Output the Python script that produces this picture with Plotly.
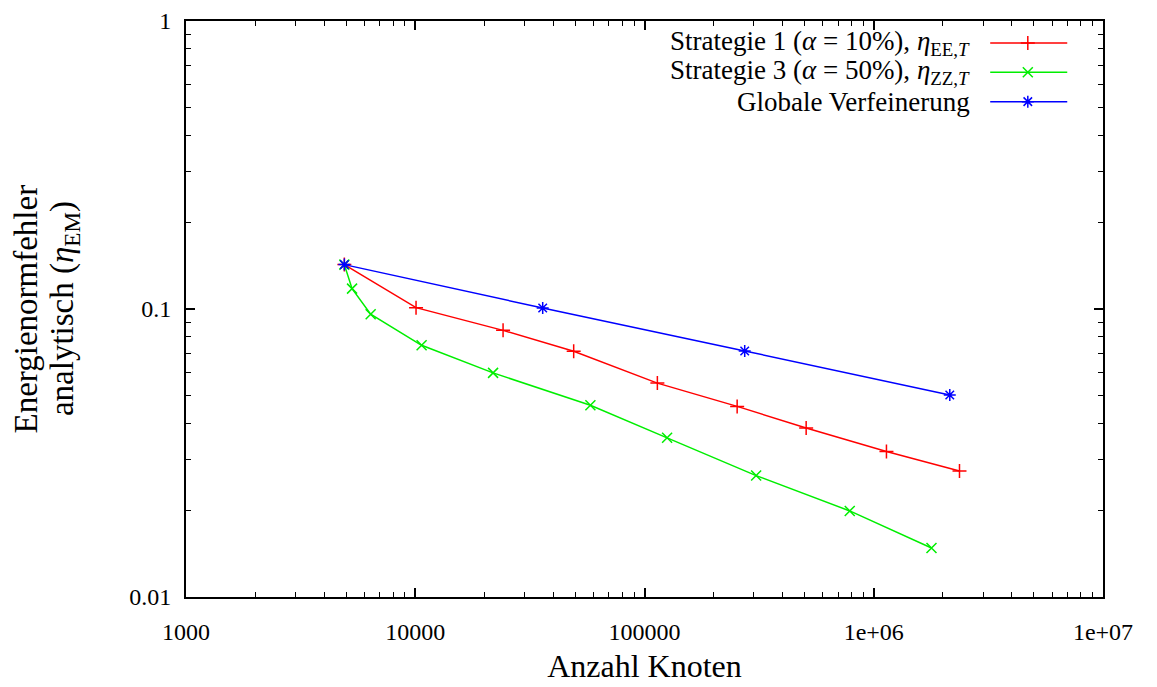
import plotly.graph_objects as go

# Data
x_s1 = [4906, 10080, 24160, 49100, 113800, 253600, 507200, 1136000, 2366000]
y_s1 = [0.1426, 0.1011, 0.0843, 0.0713, 0.0553, 0.0459, 0.0386, 0.0320, 0.0274]

x_s3 = [4906, 5301, 6390, 10660, 21850, 58070, 125500, 306900, 785800, 1786000]
y_s3 = [0.1426, 0.1177, 0.0959, 0.0748, 0.0600, 0.0463, 0.0357, 0.0264, 0.0199, 0.0148]

x_gl = [4906, 35970, 273600, 2146000]
y_gl = [0.1426, 0.1008, 0.0715, 0.0503]

x_tickvals = [1000, 10000, 100000, 1000000, 10000000]
x_ticktext = ["1000", "10000", "100000", "1e+06", "1e+07"]
y_tickvals = [0.01, 0.1, 1]
y_ticktext = ["0.01", "0.1", "1"]

x_minor = [m * d for d in [1e3, 1e4, 1e5, 1e6] for m in range(2, 10)]
y_minor = [m * d for d in [0.01, 0.1] for m in range(2, 10)]

names = [
    "Strategie 1 (<i>α</i> = 10%), <i>η</i><sub>EE,<i>T</i></sub>",
    "Strategie 3 (<i>α</i> = 50%), <i>η</i><sub>ZZ,<i>T</i></sub>",
    "Globale Verfeinerung",
]
colors = ["#ff0000", "#00ee00", "#0000ff"]
symbols = ["cross-thin-open", "x-thin-open", "asterisk-open"]

FONT = "Liberation Serif"
fig = go.Figure()

series = [(x_s1, y_s1), (x_s3, y_s3), (x_gl, y_gl)]
for (xs, ys), c, s in zip(series, colors, symbols):
    fig.add_trace(go.Scatter(
        x=xs, y=ys, mode="lines+markers",
        line=dict(color=c, width=1.5),
        marker=dict(symbol=s, size=10, color=c, line=dict(color=c, width=1.5)),
        showlegend=False,
    ))

# Manual legend (gnuplot style: text left, sample right) on a hidden overlay axis
leg_y = [0.962, 0.911, 0.860]
for name, c, s, ly in zip(names, colors, symbols, leg_y):
    fig.add_trace(go.Scatter(
        x=[0.877, 0.961], y=[ly, ly], mode="lines", xaxis="x2", yaxis="y2",
        line=dict(color=c, width=1.5), showlegend=False, hoverinfo="skip",
    ))
    fig.add_trace(go.Scatter(
        x=[0.918], y=[ly], mode="markers", xaxis="x2", yaxis="y2",
        marker=dict(symbol=s, size=10, color=c, line=dict(color=c, width=1.5)),
        showlegend=False, hoverinfo="skip",
    ))
    fig.add_annotation(
        x=0.857, y=ly, xref="x2", yref="y2", text=name, showarrow=False,
        xanchor="right", yanchor="middle", font=dict(family=FONT, size=27, color="black"),
    )

# y-axis title as two rotated lines (matching reference line spacing)
fig.add_annotation(x=-0.174, y=0.5, xref="paper", yref="paper", text="Energienormfehler",
                   showarrow=False, textangle=-90, xanchor="center", yanchor="middle",
                   font=dict(family=FONT, size=33, color="black"))
fig.add_annotation(x=-0.133, y=0.5, xref="paper", yref="paper",
                   text="analytisch (<i>η</i><sub>EM</sub>)",
                   showarrow=False, textangle=-90, xanchor="center", yanchor="middle",
                   font=dict(family=FONT, size=33, color="black"))

axis_common = dict(
    type="log", showgrid=False, zeroline=False, showline=True, linecolor="black",
    linewidth=2, mirror="allticks", ticks="inside", ticklen=9, tickwidth=1.5,
    tickcolor="black", tickfont=dict(family=FONT, size=24, color="black"),
    automargin=False,
)

fig.update_layout(
    width=1157, height=687,
    margin=dict(l=186, r=54, t=21, b=90),
    paper_bgcolor="white", plot_bgcolor="white",
    xaxis=dict(
        axis_common, range=[3, 7], tickvals=x_tickvals, ticktext=x_ticktext,
        ticklabelstandoff=12,
        minor=dict(ticks="inside", ticklen=5, tickwidth=1.2, tickcolor="black",
                   showgrid=False, tickvals=x_minor),
        title=dict(text="Anzahl Knoten", font=dict(family=FONT, size=32, color="black"), standoff=11),
    ),
    yaxis=dict(
        axis_common, range=[-2, 0], tickvals=y_tickvals, ticktext=y_ticktext,
        ticklabelstandoff=8,
        minor=dict(ticks="inside", ticklen=5, tickwidth=1.2, tickcolor="black",
                   showgrid=False, tickvals=y_minor),
    ),
    xaxis2=dict(overlaying="x", range=[0, 1], visible=False, fixedrange=True),
    yaxis2=dict(overlaying="y", range=[0, 1], visible=False, fixedrange=True),
)

fig.write_html("out.html")
